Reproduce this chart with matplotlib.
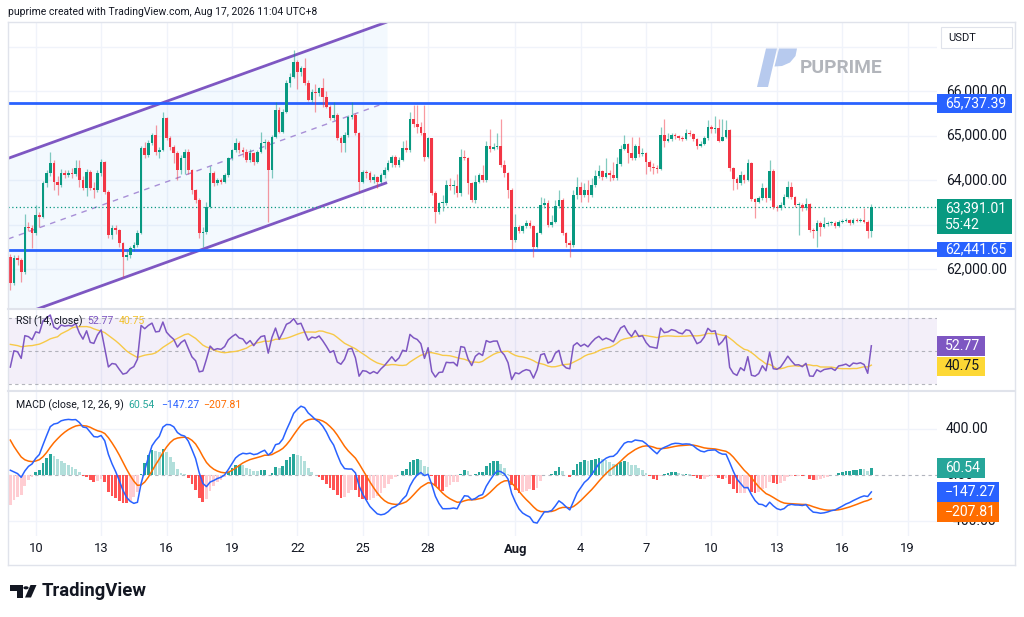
import matplotlib
matplotlib.use("Agg")
import numpy as np
import matplotlib.pyplot as plt
from matplotlib.patches import Rectangle, Polygon, Circle
from matplotlib.lines import Line2D
from matplotlib.transforms import blended_transform_factory

plt.rcParams['font.family'] = ['Roboto', 'DejaVu Sans']

# ---------------- data (4h candles, BTC/USDT, Jul 8 20:00 -> Aug 17 08:00) ----------------
first_open = 62282
closes = [
    61683, 62244, 62207, 61945, 62956, 62918, 62806, 63218, 63180, 63930,
    64154, 64379, 63967, 63892, 64154, 64117, 64154, 64140, 64267, 64004,
    63817, 64192, 63817, 63780, 64154, 64401, 63742, 62768, 62918, 62881,
    62581, 62282, 62319, 62469, 62544, 62806, 64716, 64566, 64828, 65016,
    64641, 64678, 65390, 64941, 64753, 64604, 64229, 64491, 64641, 64229,
    63780, 63555, 62806, 62843, 63405, 64154, 63930, 64004, 63967, 64117,
    64491, 64678, 64828, 64678, 64641, 64454, 64604, 64416, 64641, 64828,
    64866, 64229, 64978, 65577, 65090, 65540, 66176, 66326, 66663, 66439,
    66513, 66176, 65802, 65989, 65952, 66064, 65877, 65652, 65390, 65465,
    64941, 64828, 65016, 65427, 65465, 65053, 63967, 64192, 64154, 64004,
    64079, 63967, 64117, 64230, 64379, 64529, 64342, 64454, 64716, 64679,
    65368, 65256, 65203, 65069, 64529, 64941, 63705, 63293, 63481, 63496,
    63893, 63870, 63880, 63705, 64529, 64492, 63930, 63556, 63968, 64117,
    64005, 64769, 64694, 64754, 64760, 64342, 64155, 63780, 62657, 62941,
    62866, 62971, 63031, 62975, 62507, 62807, 63443, 63496, 62994, 63069,
    63421, 63556, 62807, 62597, 62544, 63668, 63840, 63668, 63780, 63660,
    63893, 64095, 64215, 64080, 64170, 64117, 64042, 64364, 64694, 64814,
    64619, 64492, 64769, 64589, 64619, 64417, 64290, 64267, 64245, 65016,
    64889, 64919, 65016, 64994, 64941, 64919, 65054, 65039, 64919, 64769,
    64814, 64941, 65203, 65143, 65166, 64889, 64979, 65128, 64267, 64020,
    63930, 64117, 64005, 64379, 63570, 63518, 63592, 63817, 63592, 64214,
    63405, 63368, 63443, 63630, 63840, 63630, 63443, 63450, 63368, 63465,
    62881, 62866, 63046, 62956, 63016, 63031, 63046, 62971, 63068, 63083,
    63106, 63046, 63106, 63091, 63106, 63068, 62866, 63391.01]
highs = [
    62350, 62320, 62330, 62260, 63250, 63070, 62990, 63440, 63290, 63990,
    64230, 64640, 64450, 64100, 64250, 64230, 64230, 64270, 64450, 64450,
    64100, 64260, 64230, 63950, 64220, 64480, 64420, 63780, 63000, 63000,
    62900, 62620, 62420, 62530, 62620, 62880, 64760, 64850, 64900, 65070,
    65240, 64740, 65540, 65420, 65000, 64800, 64650, 64560, 64700, 64700,
    64260, 63800, 63600, 62950, 63500, 64330, 64200, 64050, 64050, 64160,
    64530, 64700, 64940, 64880, 64750, 64700, 64700, 64640, 64680, 65090,
    64920, 64900, 65020, 65760, 65650, 65600, 66250, 66400, 66925, 66700,
    66560, 66740, 66250, 66050, 66150, 66100, 66300, 66000, 65700, 65760,
    65500, 65000, 65090, 65460, 65760, 65500, 65090, 64230, 64230, 64200,
    64130, 64100, 64160, 64300, 64450, 64570, 64570, 64530, 64870, 64900,
    65540, 65690, 65690, 65300, 65690, 64980, 64950, 63750, 63520, 63670,
    64000, 64040, 64000, 64150, 64710, 64680, 64530, 63970, 64120, 64160,
    64340, 64870, 65140, 64830, 65050, 65370, 64460, 64180, 63820, 63250,
    62990, 63000, 63110, 63110, 63000, 62840, 63630, 63590, 63560, 63220,
    63560, 63780, 63590, 62840, 62650, 63780, 64080, 63960, 63930, 64000,
    64040, 64230, 64340, 64230, 64490, 64230, 64400, 64530, 64790, 65020,
    64840, 64960, 64820, 64960, 64720, 64640, 64450, 64380, 64340, 65200,
    65370, 65050, 65060, 65060, 65020, 64990, 65150, 65130, 65070, 64940,
    64870, 64990, 65350, 65250, 65440, 65370, 65370, 65350, 65150, 64300,
    64080, 64200, 64150, 64470, 64400, 63600, 63650, 63930, 63850, 64450,
    64250, 63450, 63500, 63700, 63980, 63970, 63650, 63520, 63480, 63600,
    63490, 62920, 63110, 63080, 63180, 63080, 63090, 63080, 63110, 63130,
    63140, 63130, 63140, 63140, 63150, 63370, 63100, 63470]
lows = [
    61530, 61640, 62100, 61720, 61900, 62850, 62470, 62760, 62950, 63150,
    63850, 64100, 63780, 63670, 63850, 64050, 64080, 64060, 64100, 63850,
    63780, 63650, 63780, 63600, 63740, 64100, 63700, 62700, 62680, 62780,
    62500, 61830, 62200, 62250, 62400, 62500, 62780, 64500, 64520, 64780,
    64560, 64500, 64650, 64900, 64680, 64380, 64000, 64150, 64150, 64150,
    63700, 63480, 62700, 62500, 62800, 63380, 63880, 63900, 63920, 63930,
    64080, 64450, 64640, 64600, 64520, 64400, 64400, 64350, 64380, 64600,
    64700, 63070, 64050, 64950, 65050, 65050, 65500, 66100, 66300, 66060,
    66350, 66140, 65770, 65760, 65540, 65900, 65650, 65620, 65350, 65350,
    64900, 64640, 64640, 64980, 65380, 65010, 63740, 63930, 64040, 63950,
    63930, 63820, 63930, 64050, 64200, 64300, 64300, 64300, 64420, 64640,
    64640, 65200, 65050, 65020, 64420, 64490, 63670, 63030, 63250, 63300,
    63440, 63780, 63700, 63630, 63650, 64450, 63700, 63520, 63480, 63930,
    63960, 63960, 64640, 64680, 64700, 64300, 64080, 63600, 62430, 62620,
    62810, 62810, 62920, 62920, 62280, 62470, 62780, 63370, 62950, 62950,
    63030, 63380, 62770, 62500, 62280, 62500, 63580, 63520, 63630, 63520,
    63630, 63850, 64040, 64000, 64040, 63980, 64000, 64000, 64330, 64680,
    64380, 64460, 64450, 64530, 64540, 64150, 64200, 64150, 64170, 64220,
    64750, 64860, 64870, 64930, 64900, 64880, 64900, 64990, 64880, 64700,
    64740, 64790, 64900, 65050, 65050, 64850, 64870, 64950, 64200, 63780,
    63800, 63900, 63940, 63980, 63530, 63160, 63480, 63560, 63500, 63560,
    63350, 63300, 63330, 63400, 63600, 63580, 63400, 62770, 63300, 63340,
    62840, 62690, 62500, 62750, 62920, 62980, 62990, 62920, 62940, 63030,
    63050, 63000, 63020, 63050, 63050, 63030, 62690, 62730]

rsi_seed_avg = 95.0          # average gain / loss before first candle
rsi_ma_seed = 55.0           # RSI-based MA level at left edge
ema12_seed, ema26_seed = 62517.0, 62400.0
signal_seed = 369.0

# horizontal levels & channel drawing
level_hi = 65737.39
level_lo = 62441.65
chan_x = [-0.55, 103.7]
chan_upper = [64492, 67555]
chan_lower = [60870, 63946]

day_idx = [7, 25, 43, 61, 79, 97, 115, 139, 157, 175, 193, 211, 229, 247]
day_lbl = ["10", "13", "16", "19", "22", "25", "28", "Aug", "4", "7", "10", "13", "16", "19"]
price_ticks = [66000, 65000, 64000, 62000]
price_grid = [62000, 63000, 64000, 65000, 66000, 67000]

# ---------------- indicators ----------------
closes_a = np.array(closes, float)
opens_a = np.r_[first_open, closes_a[:-1]]
highs_a = np.array(highs, float)
lows_a = np.array(lows, float)
n = len(closes_a)
idx = np.arange(n)

ag = al = rsi_seed_avg
prev = first_open
rsi = []
for c in closes_a:
    d = c - prev
    ag = (ag * 13 + max(d, 0)) / 14
    al = (al * 13 + max(-d, 0)) / 14
    rsi.append(100 - 100 / (1 + ag / al))
    prev = c
rsi = np.array(rsi)
ext = np.r_[[rsi_ma_seed] * 13, rsi]
rsi_ma = np.array([ext[i:i + 14].mean() for i in range(n)])

e12, e26, sig = ema12_seed, ema26_seed, signal_seed
macd, signal = [], []
for c in closes_a:
    e12 += (c - e12) * 2 / 13
    e26 += (c - e26) * 2 / 27
    m = e12 - e26
    sig += (m - sig) * 0.2
    macd.append(m)
    signal.append(sig)
macd = np.array(macd)
signal = np.array(signal)
hist = macd - signal

# ---------------- figure ----------------
W, H = 1024, 617
fig = plt.figure(figsize=(W / 100, H / 100), dpi=100)
fig.patch.set_facecolor('white')


def fx(x):
    return x / W


def fy(y):
    return 1 - y / H


def add_axes(x0, y0, x1, y1):
    a = fig.add_axes([fx(x0), fy(y1), (x1 - x0) / W, (y1 - y0) / H])
    a.set_axis_off()
    return a


XL = (-0.633, 255.07)
GRID = '#f0f3fa'
UP, DN = '#089981', '#F23645'

ax = add_axes(8, 22.5, 937, 308.5)
axr = add_axes(8, 309.5, 937, 391)
axm = add_axes(8, 391.5, 937, 536)
for a in (ax, axr, axm):
    a.set_xlim(*XL)
    for d in day_idx:
        a.axvline(d, color=GRID, lw=1, zorder=0)

# ----- main pane -----
ax.set_ylim(61117, 67543)
for p in price_grid:
    ax.axhline(p, color=GRID, lw=1, zorder=0)

cx = np.linspace(chan_x[0], chan_x[1], 50)
up_line = np.interp(cx, chan_x, chan_upper)
lo_line = np.interp(cx, chan_x, chan_lower)
ax.fill_between(cx, lo_line, up_line, color='#2196F3', alpha=0.05, lw=0, zorder=1)
ax.plot(chan_x, chan_upper, color='#7E57C2', lw=2, zorder=2, solid_capstyle='butt')
ax.plot(chan_x, chan_lower, color='#7E57C2', lw=2, zorder=2, solid_capstyle='butt')
ax.plot(chan_x, [(a + b) / 2 for a, b in zip(chan_upper, chan_lower)],
        color='#9575CD', lw=1, ls=(0, (4, 4)), alpha=0.8, zorder=2)

ax.axhline(level_hi, color='#2962FF', lw=2, zorder=3)
ax.axhline(level_lo, color='#2962FF', lw=2, zorder=3)
ax.axhline(closes_a[-1], color=UP, lw=0.9, ls=(0, (1, 2)), zorder=3)

up = closes_a >= opens_a
cols = np.where(up, UP, DN)
ax.vlines(idx, lows_a, highs_a, colors=cols, lw=0.9, alpha=0.5, zorder=4)
body_lo = np.minimum(opens_a, closes_a)
body_h = np.maximum(np.abs(closes_a - opens_a), 22)
ax.bar(idx, body_h, bottom=body_lo, width=0.72, color=cols, lw=0, zorder=5)

ytr = blended_transform_factory(ax.transAxes, ax.transData)
xpos = (946 - 8) / 929
AXFS = 10.1
for p in price_ticks:
    ax.text(xpos, p, f"{p:,.2f}", transform=ytr, va='center', ha='left',
            fontsize=AXFS, color='#131722', clip_on=False)

# ----- RSI pane -----
axr.set_ylim(25.8, 75.0)
axr.axhspan(30, 70, color='#7E57C2', alpha=0.09, lw=0, zorder=0)
for lv in (70, 50, 30):
    axr.axhline(lv, color='#9598a1', lw=0.8, ls=(0, (3, 3)), alpha=0.7, zorder=1)
axr.plot(idx, rsi_ma, color='#F7C948', lw=1.0, zorder=2)
axr.plot(idx, rsi, color='#7E57C2', lw=1.1, zorder=3)

# ----- MACD pane -----
axm.set_ylim(-530, 726)
for lv in (400, -400):
    axm.axhline(lv, color=GRID, lw=1, zorder=0)
axm.axhline(0, color='#b2b5be', lw=0.8, ls=(0, (3, 3)), zorder=0)
hcols = []
for i, h in enumerate(hist):
    hp = hist[i - 1] if i > 0 else h
    if h >= 0:
        hcols.append('#26A69A' if h > hp else '#B2DFDB')
    else:
        hcols.append('#FF5252' if h < hp else '#FFCDD2')
axm.bar(idx, hist, width=0.75, color=hcols, lw=0, zorder=1)
axm.plot(idx, signal, color='#FF6D00', lw=1.1, zorder=2)
axm.plot(idx, macd, color='#2962FF', lw=1.1, zorder=3)

mtr = blended_transform_factory(axm.transAxes, axm.transData)
axm.text(xpos, 400, "400.00", transform=mtr, va='center', ha='left', fontsize=AXFS, color='#131722', clip_on=False)
axm.text(xpos, 0, "0.00", transform=mtr, va='center', ha='left', fontsize=AXFS, color='#131722', clip_on=False)
axm.text(xpos, -400, "\u2212400.00", transform=mtr, va='center', ha='left', fontsize=AXFS, color='#131722', clip_on=False)

# ----- x labels -----
xtr = blended_transform_factory(axm.transData, fig.transFigure)
for d, l in zip(day_idx, day_lbl):
    fig.text(d, fy(549), l, transform=xtr, ha='center', va='center', fontsize=9.4,
             color='#131722', fontweight='bold' if l == 'Aug' else 'normal')


# ----- frame & separators -----
def hline(y, x0, x1, c='#e0e3eb', lw=1):
    fig.add_artist(Line2D([fx(x0), fx(x1)], [fy(y), fy(y)], color=c, lw=lw, transform=fig.transFigure))


def vline(x, y0, y1, c='#e0e3eb', lw=1):
    fig.add_artist(Line2D([fx(x), fx(x)], [fy(y0), fy(y1)], color=c, lw=lw, transform=fig.transFigure))


hline(22, 8, 1015)
hline(565, 8, 1015)
vline(8, 22, 565)
vline(1015, 22, 565)
hline(309, 8, 1015, lw=1.5)
hline(391.2, 8, 1015, lw=1.5)


def box(x0, y0, x1, y1, fc, ec='none', lw=0, z=5):
    fig.add_artist(Rectangle((fx(x0), fy(y1)), (x1 - x0) / W, (y1 - y0) / H, transform=fig.transFigure,
                             facecolor=fc, edgecolor=ec, lw=lw, zorder=z))


def txt(x, y, s, **kw):
    kw.setdefault('va', 'center')
    kw.setdefault('ha', 'left')
    kw.setdefault('zorder', 6)
    fig.text(fx(x), fy(y), s, **kw)


# price labels
box(937, 94, 1012, 113, '#2962FF')
txt(945, 103.5, "65,737.39", color='white', fontsize=AXFS)
box(937, 199, 1012, 234, UP)
txt(945, 208.5, "63,391.01", color='white', fontsize=AXFS)
txt(945, 225, "55:42", color='white', fontsize=AXFS)
box(937, 241.5, 1012, 257, '#2962FF')
txt(945, 249.5, "62,441.65", color='white', fontsize=AXFS)

# RSI labels
box(937, 336, 985, 355.5, '#7E57C2')
txt(945, 346, "52.77", color='white', fontsize=AXFS)
box(937, 356.5, 985, 376, '#FDD835')
txt(945, 366.5, "40.75", color='#131722', fontsize=AXFS)

# MACD labels
box(937, 458, 985, 478, '#26A69A')
txt(945, 468, "60.54", color='white', fontsize=AXFS)
box(937, 482, 999, 501.5, '#2962FF')
txt(945, 492, "\u2212147.27", color='white', fontsize=AXFS)
box(937, 502, 999, 521.5, '#FF6D00')
txt(945, 512, "\u2212207.81", color='white', fontsize=AXFS)

# USDT box
box(940.5, 27, 1011.5, 48, 'white', ec='#e0e3eb', lw=0.8)
txt(948, 38, "USDT", color='#131722', fontsize=8)

# pane titles
txt(15.5, 321.5, "RSI (14, close)", color='#131722', fontsize=7.6)
txt(87, 321.5, "52.77", color='#7E57C2', fontsize=7.6)
txt(119, 321.5, "40.75", color='#F2C230', fontsize=7.6)
txt(15.5, 405, "MACD (close, 12, 26, 9)", color='#131722', fontsize=7.6)
txt(128, 405, "60.54", color='#26A69A', fontsize=7.6)
txt(161, 405, "\u2212147.27", color='#2962FF', fontsize=7.6)
txt(203, 405, "\u2212207.81", color='#FF6D00', fontsize=7.6)

# header
txt(8, 12, "puprime created with TradingView.com, Aug 17, 2026 11:04 UTC+8", color='#131722', fontsize=7.5)

# watermark
def poly(pts, c, z=1):
    fig.add_artist(Polygon([(fx(x), fy(y)) for x, y in pts], closed=True, transform=fig.transFigure,
                           facecolor=c, edgecolor='none', zorder=z))


poly([(757, 87), (768, 87), (777, 48.5), (766, 48.5)], '#b7caee')
poly([(779, 48.5), (797, 48.5), (795.5, 56), (790, 62.5), (782, 66), (774.5, 66.5)], '#b7caee')
txt(800, 68, "PUPRIME", color='#b2b5bb', fontsize=13.8, fontweight='bold', zorder=1)

# TradingView footer logo
poly([(10, 585), (22.5, 585), (22.5, 597.5), (16.5, 597.5), (16.5, 590.5), (10, 590.5)], '#131722', z=6)
fig.add_artist(Circle((fx(26), fy(587.8)), 2.6 / W, transform=fig.transFigure, facecolor='#131722',
                      edgecolor='none', zorder=6))
poly([(25, 597.5), (31, 597.5), (36.5, 585), (30.5, 585)], '#131722', z=6)
txt(41.5, 591, "TradingView", color='#131722', fontsize=13.3, fontweight='bold')

fig.savefig("out.png", dpi=100, facecolor='white')
